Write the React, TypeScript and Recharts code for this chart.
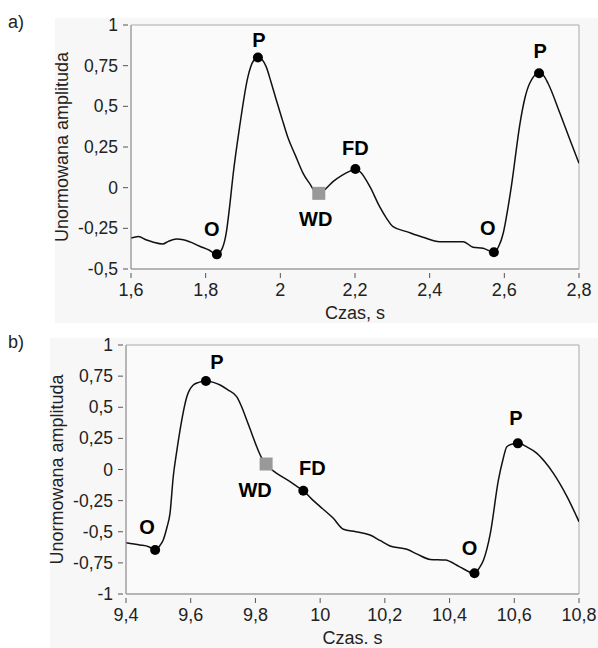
import { ComposedChart, Line, Scatter, XAxis, YAxis, ReferenceArea } from "recharts";

// panel a) samples
const timeA = [1.6, 1.62, 1.64, 1.66, 1.685, 1.7, 1.722, 1.74, 1.76, 1.784, 1.81, 1.83, 1.845, 1.855, 1.865, 1.873, 1.891, 1.913, 1.928, 1.94, 1.952, 1.962, 1.975, 1.989, 2.005, 2.02, 2.04, 2.061, 2.08, 2.095, 2.103, 2.12, 2.141, 2.165, 2.185, 2.201, 2.215, 2.24, 2.266, 2.285, 2.302, 2.338, 2.382, 2.427, 2.49, 2.516, 2.543, 2.572, 2.585, 2.597, 2.61, 2.62, 2.642, 2.655, 2.668, 2.693, 2.705, 2.717, 2.749, 2.776, 2.8];
const ampA = [-0.31, -0.3, -0.32, -0.335, -0.346, -0.33, -0.316, -0.32, -0.335, -0.36, -0.385, -0.41, -0.37, -0.28, -0.1, 0.07, 0.375, 0.68, 0.78, 0.8, 0.785, 0.744, 0.65, 0.54, 0.42, 0.31, 0.2, 0.088, 0.02, -0.03, -0.035, -0.01, 0.037, 0.075, 0.1, 0.115, 0.095, 0.006, -0.117, -0.19, -0.24, -0.27, -0.305, -0.332, -0.332, -0.366, -0.373, -0.397, -0.36, -0.28, -0.12, 0.027, 0.396, 0.55, 0.642, 0.703, 0.69, 0.642, 0.457, 0.293, 0.15];
const markTimeA = [1.83, 1.94, 2.103, 2.201, 2.572, 2.693];
const markAmpA = [-0.41, 0.8, -0.035, 0.115, -0.397, 0.703];
const markNameA = ["O", "P", "WD", "FD", "O", "P"];
const xTicksA = [1.6, 1.8, 2, 2.2, 2.4, 2.6, 2.8];
const yTicksA = [-0.5, -0.25, 0, 0.25, 0.5, 0.75, 1];

// panel b)
const timeB = [9.4, 9.443, 9.47, 9.49, 9.505, 9.515, 9.527, 9.536, 9.546, 9.557, 9.567, 9.588, 9.608, 9.625, 9.647, 9.67, 9.691, 9.715, 9.742, 9.758, 9.773, 9.79, 9.804, 9.82, 9.833, 9.85, 9.866, 9.907, 9.93, 9.948, 9.975, 10.0, 10.04, 10.072, 10.11, 10.154, 10.185, 10.216, 10.268, 10.3, 10.34, 10.387, 10.43, 10.477, 10.492, 10.505, 10.526, 10.551, 10.565, 10.577, 10.595, 10.611, 10.64, 10.67, 10.695, 10.721, 10.763, 10.8];
const ampB = [-0.588, -0.606, -0.62, -0.647, -0.61, -0.566, -0.46, -0.352, -0.058, 0.15, 0.317, 0.585, 0.679, 0.7, 0.711, 0.7, 0.679, 0.64, 0.585, 0.5, 0.398, 0.28, 0.183, 0.09, 0.044, 0.0, -0.031, -0.098, -0.14, -0.17, -0.24, -0.298, -0.39, -0.48, -0.5, -0.526, -0.57, -0.614, -0.641, -0.68, -0.722, -0.727, -0.78, -0.834, -0.79, -0.727, -0.513, -0.084, 0.08, 0.183, 0.205, 0.21, 0.18, 0.13, 0.06, -0.031, -0.218, -0.419];
const markTimeB = [9.49, 9.647, 9.833, 9.948, 10.477, 10.611];
const markAmpB = [-0.647, 0.711, 0.044, -0.17, -0.834, 0.21];
const markNameB = ["O", "P", "WD", "FD", "O", "P"];
const xTicksB = [9.4, 9.6, 9.8, 10, 10.2, 10.4, 10.6, 10.8];
const yTicksB = [-1, -0.75, -0.5, -0.25, 0, 0.25, 0.5, 0.75, 1];

// label nudges (px) for each marker, same order as the marker arrays
const nudgeA = [[-5, -25], [1, -18], [-3, 26], [0, -21], [-6, -24], [1, -22]];
const nudgeB = [[-8, -23], [11, -19], [-11, 26], [9, -23], [-5, -25], [-2, -25]];

const FONT = "'Liberation Sans', Arial, sans-serif";
const TEXT = "#222";

const fmt = (v: number) => String(v).replace(".", ",");

function XTick({ x, y, payload }: any) {
  return (
    <g>
      <line x1={x} x2={x} y1={y - 5} y2={y} stroke="#555" />
      <text x={x} y={y + 18} textAnchor="middle" fontSize={18} fontFamily={FONT} fill={TEXT}>
        {fmt(payload.value)}
      </text>
    </g>
  );
}

function YTick({ x, y, payload }: any) {
  return (
    <g>
      <line x1={x + 3} x2={x + 8} y1={y} y2={y} stroke="#555" />
      <text x={x - 2} y={y + 6} textAnchor="end" fontSize={17.5} fontFamily={FONT} fill={TEXT}>
        {fmt(payload.value)}
      </text>
    </g>
  );
}

function makeShape(nudge: number[][], square: boolean) {
  return (props: any) => {
    const { cx, cy, payload } = props;
    const [dx, dy] = nudge[payload.idx];
    return (
      <g>
        {square ? (
          <rect x={cx - 6.5} y={cy - 6.5} width={13} height={13} fill="#999" />
        ) : (
          <circle cx={cx} cy={cy} r={5} fill="#000" />
        )}
        <text x={cx + dx} y={cy + dy} textAnchor="middle" dominantBaseline="central" fontSize={20} fontWeight="bold" fontFamily={FONT} fill="#000">
          {payload.name}
        </text>
      </g>
    );
  };
}

interface PanelProps {
  times: number[];
  amps: number[];
  markTimes: number[];
  markAmps: number[];
  markNames: string[];
  nudge: number[][];
  xTicks: number[];
  yTicks: number[];
  xLabel: string;
  height: number;
  margin: { top: number; right: number; left: number; bottom: number };
}

function Panel({ times, amps, markTimes, markAmps, markNames, nudge, xTicks, yTicks, xLabel, height, margin }: PanelProps) {
  const line = times.map((t, i) => ({ t, v: amps[i] }));
  const marks = markTimes.map((t, i) => ({ t, v: markAmps[i], name: markNames[i], idx: i }));
  const squares = marks.filter((m) => m.name === "WD");
  const dots = marks.filter((m) => m.name !== "WD");
  const xMin = xTicks[0];
  const xMax = xTicks[xTicks.length - 1];
  const yMin = yTicks[0];
  const yMax = yTicks[yTicks.length - 1];
  return (
    <ComposedChart width={598} height={height} margin={margin}>
      <XAxis
        dataKey="t"
        type="number"
        domain={[xMin, xMax]}
        ticks={xTicks}
        allowDataOverflow
        height={40}
        tickSize={9}
        tickMargin={0}
        tickLine={false}
        axisLine={{ stroke: "#999" }}
        tick={<XTick />}
        interval={0}
        label={{
          content: (p: any) => {
            const vb = p.viewBox;
            return (
              <text x={vb.x + vb.width / 2} y={vb.y + 50} textAnchor="middle" fontSize={18} fontFamily={FONT} fill={TEXT}>
                {xLabel}
              </text>
            );
          },
        }}
      />
      <YAxis
        dataKey="v"
        type="number"
        domain={[yMin, yMax]}
        ticks={yTicks}
        allowDataOverflow
        width={80}
        tickSize={8}
        tickMargin={3}
        tickLine={false}
        axisLine={{ stroke: "#999" }}
        tick={<YTick />}
        interval={0}
        label={{
          content: (p: any) => {
            const vb = p.viewBox;
            const cx = vb.x + 11;
            const cy = vb.y + vb.height / 2;
            return (
              <text x={cx} y={cy} transform={`rotate(-90 ${cx} ${cy})`} textAnchor="middle" dominantBaseline="central" fontSize={18} fontFamily={FONT} fill={TEXT}>
                Unormowana amplituda
              </text>
            );
          },
        }}
      />
      <ReferenceArea x1={xMin} x2={xMax} y1={yMin} y2={yMax} fill="#fafafa" fillOpacity={1} stroke="#aaa" />
      <Scatter data={squares} dataKey="v" shape={makeShape(nudge, true)} isAnimationActive={false} />
      <Line data={line} dataKey="v" type="monotone" stroke="#111" strokeWidth={1.5} dot={false} activeDot={false} isAnimationActive={false} />
      <Scatter data={dots} dataKey="v" shape={makeShape(nudge, false)} isAnimationActive={false} />
    </ComposedChart>
  );
}

export default function App() {
  return (
    <div style={{ position: "absolute", left: 0, top: 0, width: 598, height: 648, background: "#fff", fontFamily: FONT }}>
      <div style={{ position: "absolute", left: 55, top: 18, width: 543, height: 305, background: "#f7f7f7" }} />
      <div style={{ position: "absolute", left: 50, top: 338, width: 548, height: 310, background: "#f7f7f7" }} />
      <div style={{ position: "absolute", left: 8, top: 12, fontSize: 18, color: TEXT }}>a)</div>
      <div style={{ position: "absolute", left: 8, top: 332, fontSize: 18, color: TEXT }}>b)</div>
      <div style={{ position: "absolute", left: 0, top: 0 }}>
        <Panel
          times={timeA}
          amps={ampA}
          markTimes={markTimeA}
          markAmps={markAmpA}
          markNames={markNameA}
          nudge={nudgeA}
          xTicks={xTicksA}
          yTicks={yTicksA}
          xLabel="Czas, s"
          height={330}
          margin={{ top: 25, right: 19, left: 51, bottom: 21 }}
        />
      </div>
      <div style={{ position: "absolute", left: 0, top: 320 }}>
        <Panel
          times={timeB}
          amps={ampB}
          markTimes={markTimeB}
          markAmps={markAmpB}
          markNames={markNameB}
          nudge={nudgeB}
          xTicks={xTicksB}
          yTicks={yTicksB}
          xLabel="Czas. s"
          height={328}
          margin={{ top: 25, right: 19, left: 46, bottom: 14 }}
        />
      </div>
    </div>
  );
}
